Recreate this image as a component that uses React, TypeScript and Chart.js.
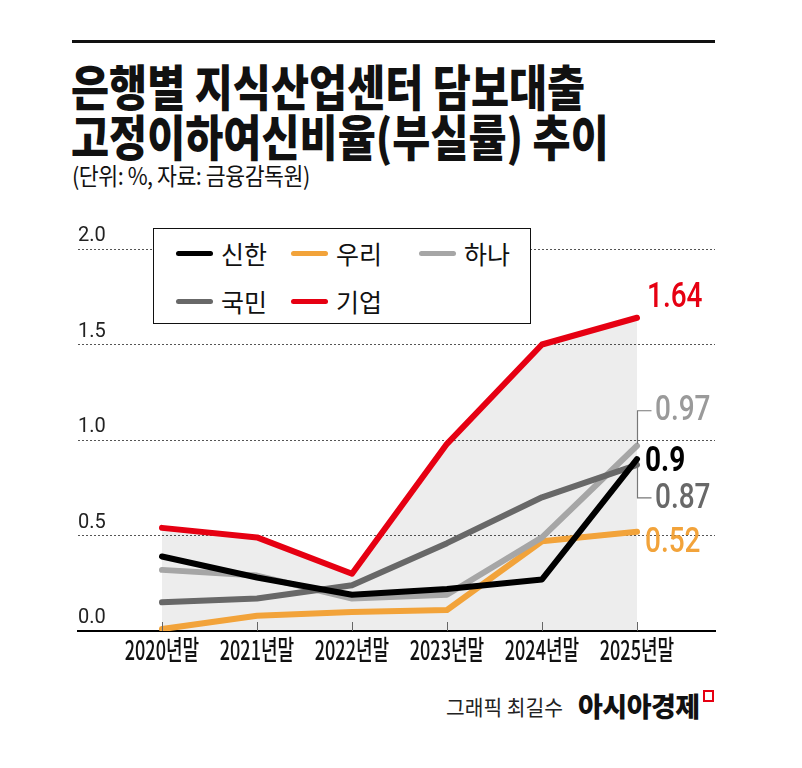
import React, { useEffect, useRef } from 'react';
import { Chart, registerables } from 'chart.js';

Chart.register(...registerables);

// ---------- data ----------
const categories = ['2020년말', '2021년말', '2022년말', '2023년말', '2024년말', '2025년말'];
const seriesNames = ['신한', '우리', '하나', '국민', '기업'];
const shinhan = [0.39, 0.28, 0.19, 0.22, 0.27, 0.9];
const woori = [0.01, 0.08, 0.1, 0.11, 0.47, 0.52];
const hana = [0.32, 0.29, 0.17, 0.19, 0.49, 0.97];
const kookmin = [0.15, 0.17, 0.24, 0.46, 0.7, 0.87];
const ibk = [0.54, 0.49, 0.3, 0.98, 1.5, 1.64];
const endLabels = ['0.9', '0.52', '0.97', '0.87', '1.64'];
const yTickValues = [0, 0.5, 1, 1.5, 2];

// ---------- styles ----------
const colors = ['#000000', '#f2a33a', '#a6a6a6', '#686868', '#e60012'];
const labelColors = ['#000000', '#f2a33a', '#9a9a9a', '#686868', '#e60012'];
const seriesData = [shinhan, woori, hana, kookmin, ibk];
const drawOrder = [1, 4, 3, 2, 0];
// label layout: dx from point, dy (text centre) from point, bracket flag, weight
const labelLayout = [
  { dx: 8, dy: 2, bracket: 0, weight: 700 },
  { dx: 8, dy: 11, bracket: 0, weight: 500 },
  { dx: 18, dy: -35, bracket: -1, weight: 500 },
  { dx: 18, dy: 33, bracket: 1, weight: 500 },
  { dx: 10, dy: -21, bracket: 0, weight: 500 },
];

const CJK = '"Noto Sans CJK KR", "Noto Sans", sans-serif';

const overlayPlugin = {
  id: 'overlay',
  afterDatasetsDraw(chart: any) {
    const ctx = chart.ctx;
    const xs = chart.scales.x;
    const ys = chart.scales.y;
    const bottom = chart.chartArea.bottom;
    ctx.save();
    // tick marks
    ctx.strokeStyle = '#666';
    ctx.lineWidth = 1;
    categories.forEach((_, i) => {
      const x = Math.round(xs.getPixelForValue(i)) + 0.5;
      ctx.beginPath();
      ctx.moveTo(x, bottom - 9);
      ctx.lineTo(x, bottom);
      ctx.stroke();
    });
    // x labels
    ctx.fillStyle = '#111';
    ctx.textAlign = 'center';
    ctx.textBaseline = 'middle';
    ctx.font = '500 27px ' + CJK;
    categories.forEach((c, i) => {
      const x = xs.getPixelForValue(i);
      ctx.save();
      ctx.translate(x, bottom + 19);
      ctx.scale(0.67, 1);
      ctx.fillText(c, 0, 0);
      ctx.restore();
    });
    // end labels
    const last = categories.length - 1;
    seriesData.forEach((arr, s) => {
      const lay = labelLayout[s];
      const px = xs.getPixelForValue(last);
      const py = ys.getPixelForValue(arr[last]);
      const ty = py + lay.dy;
      if (lay.bracket !== 0) {
        ctx.strokeStyle = '#777';
        ctx.lineWidth = 1.2;
        ctx.beginPath();
        const x0 = Math.round(px) + 0.5;
        ctx.moveTo(x0, py + (lay.bracket < 0 ? -2 : 2));
        ctx.lineTo(x0, ty);
        ctx.lineTo(x0 + 14, ty);
        ctx.stroke();
      }
      ctx.save();
      ctx.translate(px + lay.dx, ty);
      ctx.scale(0.8, 1);
      ctx.fillStyle = labelColors[s];
      ctx.textAlign = 'left';
      ctx.textBaseline = 'middle';
      ctx.font = `${lay.weight} 35px Roboto, "Liberation Sans", sans-serif`;
      ctx.fillText(endLabels[s], 0, 1);
      ctx.restore();
    });
    ctx.restore();
  },
};

function ChartCanvas() {
  const ref = useRef<HTMLCanvasElement>(null);
  useEffect(() => {
    if (!ref.current) return;
    const datasets: any[] = seriesData.map((arr, s) => ({
      label: seriesNames[s],
      data: arr.map((v, i) => ({ x: i, y: v })),
      borderColor: colors[s],
      backgroundColor: colors[s],
      borderWidth: 6,
      pointRadius: 0,
      borderCapStyle: 'round',
      borderJoinStyle: 'round',
      tension: 0,
      fill: false,
      order: drawOrder[s],
    }));
    datasets.push({
      label: 'area',
      data: ibk.map((v, i) => ({ x: i, y: v })),
      borderWidth: 0,
      borderColor: 'rgba(0,0,0,0)',
      backgroundColor: 'rgba(0,0,0,0.07)',
      pointRadius: 0,
      fill: 'origin',
      order: 20,
    });
    const chart = new Chart(ref.current, {
      type: 'line',
      data: { datasets },
      plugins: [overlayPlugin],
      options: {
        animation: false,
        responsive: false,
        maintainAspectRatio: false,
        layout: { padding: { left: 78, right: 87, top: 49, bottom: 0 } },
        plugins: {
          legend: { display: false },
          tooltip: { enabled: false },
          filler: { drawTime: 'beforeDatasetsDraw' },
        } as any,
        scales: {
          x: {
            type: 'linear',
            min: -84 / 95,
            max: 5 + 78 / 95,
            grid: { display: false, drawTicks: false },
            border: { display: true, color: '#000', width: 2 },
            ticks: { display: false },
            afterFit: (s: any) => { s.height = 49; },
          },
          y: {
            min: 0,
            max: 2,
            afterBuildTicks: (s: any) => { s.ticks = yTickValues.map((v) => ({ value: v })); },
            grid: {
              color: (c: any) => (c.tick && c.tick.value === 0 ? 'rgba(0,0,0,0)' : '#555'),
              lineWidth: 1,
              drawTicks: false,
            },
            border: { display: false, dash: [2, 2] },
            ticks: {
              mirror: true,
              padding: 0,
              labelOffset: -13,
              color: '#222',
              font: { family: 'Roboto', size: 20 },
              callback: (v: any) => Number(v).toFixed(1),
            },
            afterFit: (s: any) => { s.width = 0; },
          },
        },
      } as any,
    });
    return () => chart.destroy();
  }, []);
  return (
    <canvas
      ref={ref}
      width={802}
      height={480}
      style={{ position: 'absolute', left: 0, top: 200, width: 802, height: 480 }}
    />
  );
}

const legendCols = [22, 137, 265];
const legendRows = [24, 72];

export default function App() {
  return (
    <div style={{ position: 'fixed', left: 0, top: 0, width: 802, height: 768, background: '#fff', overflow: 'hidden' }}>
      <div style={{ position: 'absolute', left: 72, top: 40, width: 643, height: 3, background: '#111' }} />
      <div
        style={{
          position: 'absolute', left: 71, top: 60, fontFamily: CJK, fontWeight: 900, fontSize: 49,
          lineHeight: '50px', color: '#111', transform: 'scaleX(0.845)', transformOrigin: 'left top', whiteSpace: 'nowrap',
        }}
      >
        <div>은행별 지식산업센터 담보대출</div>
        <div>고정이하여신비율(부실률) 추이</div>
      </div>
      <div
        style={{
          position: 'absolute', left: 72, top: 160, fontFamily: CJK, fontWeight: 400, fontSize: 24,
          lineHeight: '30px', color: '#111', transform: 'scaleX(0.9)', transformOrigin: 'left top', whiteSpace: 'nowrap',
          letterSpacing: -0.5,
        }}
      >
        (단위: %, 자료: 금융감독원)
      </div>
      <ChartCanvas />
      <div
        style={{
          position: 'absolute', left: 153, top: 228, width: 376, height: 94, background: '#fff',
          border: '1px solid #111', boxSizing: 'content-box',
        }}
      >
        {seriesNames.map((n, i) => {
          const col = i < 3 ? i : i - 3;
          const row = i < 3 ? 0 : 1;
          return (
            <div key={n} style={{ position: 'absolute', left: legendCols[col], top: legendRows[row] - 18, height: 36, display: 'flex', alignItems: 'center' }}>
              <div style={{ width: 37, height: 5, borderRadius: 3, background: colors[i] }} />
              <div style={{ marginLeft: 8, fontFamily: CJK, fontSize: 25, color: '#111', lineHeight: '36px' }}>{n}</div>
            </div>
          );
        })}
      </div>
      <div style={{ position: 'absolute', left: 446, top: 686, display: 'flex', alignItems: 'center', whiteSpace: 'nowrap' }}>
        <span style={{ fontFamily: CJK, fontSize: 21, color: '#222', display: 'inline-block', transform: 'scaleX(0.97)', transformOrigin: 'left center', width: 126 }}>그래픽 최길수</span>
        <span style={{ fontFamily: CJK, fontSize: 27, fontWeight: 900, color: '#111', marginLeft: 6, letterSpacing: -0.5 }}>아시아경제</span>
        <span style={{ display: 'inline-block', width: 7, height: 8, border: '2px solid #e60012', marginLeft: 3, alignSelf: 'flex-start', marginTop: 4 }} />
      </div>
    </div>
  );
}
